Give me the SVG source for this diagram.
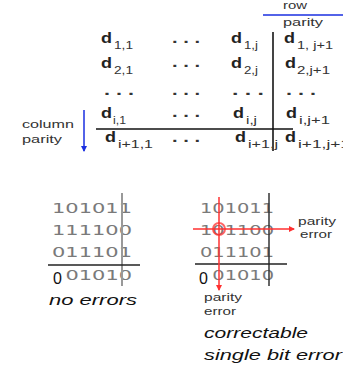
<svg xmlns="http://www.w3.org/2000/svg" width="343" height="365" viewBox="0 0 343 365">
<defs>
<style>
.d{font-family:"Liberation Sans",Arial,sans-serif;font-weight:bold;font-size:15px;fill:#222}
.s{font-family:"Liberation Sans",Arial,sans-serif;font-size:11px;fill:#333}
.dt{font-family:"Liberation Sans",Arial,sans-serif;font-weight:bold;font-size:15px;fill:#333}
.lb{font-family:"Liberation Sans",Arial,sans-serif;font-size:10px;fill:#333}
.bit{font-family:"DejaVu Sans",Verdana,sans-serif;font-size:14px;fill:#7a7a7a}
.blk{font-family:"Liberation Sans",Arial,sans-serif;font-size:16px;fill:#111}
.it{font-family:"Liberation Sans",Arial,sans-serif;font-style:italic;font-size:15px;fill:#111}
.red{stroke:#ff3030;stroke-opacity:0.75;stroke-width:2;fill:none}
</style>
<marker id="ab" markerWidth="6" markerHeight="6" refX="5" refY="3" orient="auto" markerUnits="userSpaceOnUse"><path d="M0,0 L6,3 L0,6 z" fill="#1a2fe0"/></marker>
<marker id="ar" markerWidth="6" markerHeight="6" refX="5" refY="3" orient="auto" markerUnits="userSpaceOnUse"><path d="M0,0 L6,3 L0,6 z" fill="#ff3030"/></marker>
</defs>
<rect width="343" height="365" fill="#fff"/>

<g id="row-parity-label">
<text class="lb" x="283" y="9" textLength="24" lengthAdjust="spacingAndGlyphs">row</text>
<text class="lb" x="283" y="26" textLength="40" lengthAdjust="spacingAndGlyphs">parity</text>
</g>
<g id="column-parity-label">
<text class="lb" x="22" y="128" textLength="52" lengthAdjust="spacingAndGlyphs">column</text>
<text class="lb" x="22" y="143" textLength="40" lengthAdjust="spacingAndGlyphs">parity</text>
</g>

<g id="matrix">
<text class="d" x="101" y="43" textLength="11" lengthAdjust="spacingAndGlyphs">d</text>
<text class="s" x="114" y="49" textLength="19" lengthAdjust="spacingAndGlyphs">1,1</text>
<text class="dt" x="172" y="43" textLength="28" lengthAdjust="spacingAndGlyphs">. . .</text>
<text class="d" x="231" y="43" textLength="11" lengthAdjust="spacingAndGlyphs">d</text>
<text class="s" x="244" y="49" textLength="14" lengthAdjust="spacingAndGlyphs">1,j</text>
<text class="d" x="284" y="43" textLength="11" lengthAdjust="spacingAndGlyphs">d</text>
<text class="s" x="297" y="49" textLength="36" lengthAdjust="spacingAndGlyphs">1, j+1</text>

<text class="d" x="101" y="68" textLength="11" lengthAdjust="spacingAndGlyphs">d</text>
<text class="s" x="114" y="74" textLength="19" lengthAdjust="spacingAndGlyphs">2,1</text>
<text class="dt" x="172" y="67" textLength="28" lengthAdjust="spacingAndGlyphs">. . .</text>
<text class="d" x="231" y="68" textLength="11" lengthAdjust="spacingAndGlyphs">d</text>
<text class="s" x="244" y="74" textLength="14" lengthAdjust="spacingAndGlyphs">2,j</text>
<text class="d" x="285" y="68" textLength="11" lengthAdjust="spacingAndGlyphs">d</text>
<text class="s" x="297" y="74" textLength="33" lengthAdjust="spacingAndGlyphs">2,j+1</text>

<text class="dt" x="104" y="95" textLength="30" lengthAdjust="spacingAndGlyphs">. . .</text>
<text class="dt" x="172" y="95" textLength="28" lengthAdjust="spacingAndGlyphs">. . .</text>
<text class="dt" x="232" y="95" textLength="32" lengthAdjust="spacingAndGlyphs">. . .</text>
<text class="dt" x="286" y="95" textLength="30" lengthAdjust="spacingAndGlyphs">. . .</text>

<text class="d" x="101" y="118" textLength="11" lengthAdjust="spacingAndGlyphs">d</text>
<text class="s" x="113" y="124" textLength="13" lengthAdjust="spacingAndGlyphs">i,1</text>
<text class="dt" x="172" y="117" textLength="28" lengthAdjust="spacingAndGlyphs">. . .</text>
<text class="d" x="233" y="118" textLength="11" lengthAdjust="spacingAndGlyphs">d</text>
<text class="s" x="246" y="124" textLength="11" lengthAdjust="spacingAndGlyphs">i,j</text>
<text class="d" x="286" y="118" textLength="11" lengthAdjust="spacingAndGlyphs">d</text>
<text class="s" x="299" y="124" textLength="31" lengthAdjust="spacingAndGlyphs">i,j+1</text>

<text class="d" x="105" y="142" textLength="11" lengthAdjust="spacingAndGlyphs">d</text>
<text class="s" x="118" y="148" textLength="35" lengthAdjust="spacingAndGlyphs">i+1,1</text>
<text class="dt" x="172" y="142" textLength="28" lengthAdjust="spacingAndGlyphs">. . .</text>
<text class="d" x="235" y="142" textLength="11" lengthAdjust="spacingAndGlyphs">d</text>
<text class="s" x="248" y="148" textLength="30" lengthAdjust="spacingAndGlyphs">i+1,j</text>
<text class="d" x="285" y="142" textLength="11" lengthAdjust="spacingAndGlyphs">d</text>
<text class="s" x="298" y="148" textLength="52" lengthAdjust="spacingAndGlyphs">i+1,j+1</text>
</g>

<g id="no-errors-example">
<text class="bit" x="52" y="213" textLength="80" lengthAdjust="spacingAndGlyphs">101011</text>
<text class="bit" x="52" y="235" textLength="80" lengthAdjust="spacingAndGlyphs">111100</text>
<text class="bit" x="52" y="257" textLength="80" lengthAdjust="spacingAndGlyphs">011101</text>
<text class="blk" x="53" y="284">0</text>
<text class="bit" x="65.5" y="280" textLength="66.5" lengthAdjust="spacingAndGlyphs">01010</text>
<text class="it" x="49" y="305" textLength="88" lengthAdjust="spacingAndGlyphs">no errors</text>
</g>

<g id="single-bit-error-example">
<text class="bit" x="200" y="213" textLength="74" lengthAdjust="spacingAndGlyphs">101011</text>
<text class="bit" x="200" y="235" textLength="74" lengthAdjust="spacingAndGlyphs">101100</text>
<text class="bit" x="200" y="257" textLength="74" lengthAdjust="spacingAndGlyphs">011101</text>
<text class="blk" x="199" y="284">0</text>
<text class="bit" x="212.3" y="280" textLength="61.7" lengthAdjust="spacingAndGlyphs">01010</text>
<text class="lb" x="298" y="225" textLength="38" lengthAdjust="spacingAndGlyphs">parity</text>
<text class="lb" x="300" y="238" textLength="32" lengthAdjust="spacingAndGlyphs">error</text>
<text class="lb" x="204" y="301" textLength="38" lengthAdjust="spacingAndGlyphs">parity</text>
<text class="lb" x="204" y="315" textLength="32" lengthAdjust="spacingAndGlyphs">error</text>
<text class="it" x="204" y="338" textLength="104" lengthAdjust="spacingAndGlyphs">correctable</text>
<text class="it" x="204" y="360" textLength="138" lengthAdjust="spacingAndGlyphs">single bit error</text>
</g>

<g id="connectors">
<line x1="263" y1="15" x2="343" y2="15" stroke="#1a2fe0" stroke-width="1.5"/>
<line x1="273" y1="32" x2="273" y2="151" stroke="#444" stroke-width="2"/>
<line x1="96" y1="129" x2="293" y2="129" stroke="#111" stroke-width="1.5"/>
<line x1="84" y1="110" x2="84" y2="151" stroke="#1a2fe0" stroke-width="1.5" marker-end="url(#ab)"/>
<line x1="122" y1="193" x2="122" y2="286" stroke="#999" stroke-width="2"/>
<line x1="48" y1="265" x2="140" y2="265" stroke="#222" stroke-width="1.5"/>
<line x1="269" y1="193" x2="269" y2="286" stroke="#333" stroke-width="1.5"/>
<line x1="195" y1="264" x2="287" y2="264" stroke="#222" stroke-width="1.5"/>
<line class="red" x1="219" y1="197" x2="219" y2="290" marker-end="url(#ar)"/>
<line class="red" x1="193" y1="229" x2="294" y2="229" marker-end="url(#ar)"/>
<circle class="red" cx="219" cy="229" r="6"/>
</g>
</svg>
